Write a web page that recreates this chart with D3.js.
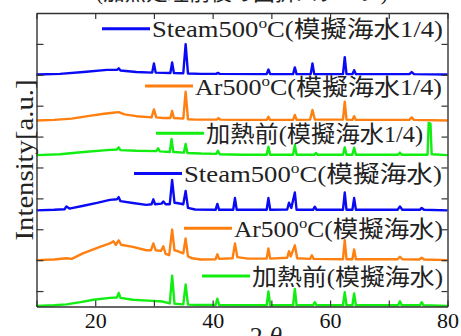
<!DOCTYPE html>
<html>
<head>
<meta charset="utf-8">
<script src="https://cdn.jsdelivr.net/npm/d3@7"></script>
<style>
  body { margin: 0; background: #fff; }
  svg { display: block; }
</style>
</head>
<body>
<div id="chart"></div>
<script>
// XRD patterns, [2theta, intensity above own baseline], bottom to top
const preheatSea = [[10,0],[13,0.02],[15.1,0.05],[17.5,0.12],[19.7,0.2],[22.5,0.26],[23.7,0.27],[24.0,0.42],[24.3,0.26],[26.4,0.2],[29,0.17],[31.5,0.14],[32.7,0.08],[33.1,0.98],[33.5,0.07],[35.0,0.05],[35.4,0.69],[35.8,0.04],[38,0.03],[40.5,0.03],[40.8,0.23],[41.1,0.03],[45,0.02],[49.2,0.02],[49.5,0.47],[49.8,0.02],[53.7,0.02],[54.0,0.55],[54.3,0.02],[57.1,0.02],[57.4,0.12],[57.7,0.02],[62.2,0.02],[62.5,0.44],[62.8,0.02],[63.8,0.02],[64.1,0.40],[64.4,0.02],[71.6,0.02],[71.9,0.15],[72.2,0.02],[75.3,0.02],[75.6,0.12],[75.9,0.02],[80,0]];
const ar500Sea = [[10,0],[13,0.02],[15.1,0.06],[16,0.04],[17.9,0.22],[20.8,0.43],[22.5,0.54],[23.1,0.61],[23.5,0.5],[24.0,0.64],[24.4,0.5],[26.4,0.43],[28.7,0.32],[29.5,0.32],[29.9,0.54],[30.3,0.32],[31.2,0.3],[31.6,0.45],[32.0,0.2],[32.6,0.16],[33.1,0.99],[33.5,0.32],[33.9,0.3],[35.0,0.22],[35.4,0.70],[35.8,0.12],[36.5,0.06],[38,0.02],[40.5,0.03],[40.8,0.19],[41.1,0.04],[43.4,0.06],[43.8,0.54],[44.2,0.1],[46,0.05],[49.2,0.05],[49.5,0.38],[49.8,0.05],[52.7,0.08],[53.0,0.29],[53.3,0.12],[54.0,0.48],[54.4,0.06],[56.6,0.04],[56.9,0.16],[57.2,0.04],[62.2,0.03],[62.5,0.65],[62.8,0.03],[63.8,0.03],[64.1,0.35],[64.4,0.03],[71.5,0.03],[71.9,0.11],[72.3,0.03],[75.2,0.02],[75.6,0.08],[76,0.02],[80,0]];
const steam500Sea = [[10,0],[13,0.02],[14.8,0.04],[15.1,0.13],[15.6,0.06],[18,0.15],[20.5,0.25],[22.5,0.34],[23.7,0.36],[24.0,0.43],[24.3,0.3],[26.4,0.24],[28.7,0.18],[29.6,0.2],[29.9,0.36],[30.2,0.2],[31.3,0.22],[31.6,0.29],[32.0,0.2],[32.7,0.2],[33.1,0.99],[33.5,0.25],[33.9,0.24],[35.0,0.2],[35.4,0.63],[35.8,0.08],[37,0.03],[40.5,0.02],[40.8,0.21],[41.1,0.02],[43.5,0.02],[43.8,0.4],[44.1,0.02],[49.2,0.02],[49.5,0.4],[49.8,0.02],[52.7,0.03],[53.0,0.25],[53.4,0.08],[54.0,0.58],[54.3,0.02],[57.1,0.02],[57.4,0.12],[57.7,0.02],[62.2,0.02],[62.5,0.58],[62.8,0.02],[63.8,0.02],[64.1,0.4],[64.4,0.02],[71.5,0.02],[71.9,0.13],[72.3,0.02],[75.3,0.02],[75.6,0.08],[76,0.02],[80,0]];
const preheatQuarter = [[10,0],[14,0.03],[18,0.1],[22,0.16],[23.7,0.18],[24.0,0.25],[24.3,0.16],[27,0.14],[30.4,0.13],[30.7,0.22],[31.0,0.12],[32.7,0.1],[33.0,0.52],[33.3,0.1],[35.1,0.08],[35.4,0.36],[35.7,0.07],[38,0.05],[40.6,0.04],[40.9,0.14],[41.2,0.03],[45,0.01],[49.2,0.01],[49.5,0.27],[49.8,0.01],[53.7,0.01],[54.0,0.32],[54.3,0.01],[57.3,0.01],[57.6,0.07],[57.9,0.01],[62.2,0.01],[62.5,0.25],[62.8,0.01],[63.8,0.01],[64.1,0.24],[64.4,0.01],[71.6,0.01],[71.9,0.08],[72.2,0.01],[76.6,0.01],[76.8,1.04],[77.1,1.02],[77.3,0.03],[80,0]];
const ar500Quarter = [[10,0],[13,0.02],[16,0.06],[19,0.15],[21.5,0.22],[23,0.25],[24.0,0.27],[25,0.2],[27,0.14],[29.6,0.1],[30.0,0.36],[30.4,0.1],[31.5,0.08],[32.8,0.08],[33.1,0.31],[33.4,0.08],[35.0,0.06],[35.4,0.93],[35.8,0.04],[37,0.03],[40.7,0.03],[41.0,0.08],[41.3,0.03],[45,0.02],[49.2,0.02],[49.5,0.12],[49.8,0.02],[53.7,0.02],[54.0,0.18],[54.3,0.02],[56.6,0.03],[57.0,0.34],[57.4,0.03],[62.2,0.03],[62.5,0.61],[62.8,0.03],[63.8,0.02],[64.1,0.14],[64.4,0.02],[73.5,0.02],[73.9,0.1],[74.3,0.02],[80,0]];
const steam500Quarter = [[10,0],[14,0.02],[18,0.08],[22,0.15],[23.7,0.15],[24.0,0.2],[24.3,0.13],[27,0.08],[29.7,0.06],[30.0,0.36],[30.3,0.06],[32.8,0.05],[33.1,0.39],[33.4,0.05],[35.0,0.04],[35.4,0.98],[35.8,0.03],[38,0.02],[40.6,0.02],[40.9,0.05],[41.2,0.02],[49.2,0.01],[49.5,0.16],[49.8,0.01],[53.7,0.01],[54.0,0.23],[54.3,0.01],[56.7,0.01],[57.0,0.36],[57.3,0.01],[62.2,0.01],[62.5,0.56],[62.8,0.01],[63.8,0.01],[64.1,0.14],[64.4,0.01],[73.5,0.01],[73.9,0.08],[74.3,0.01],[80,0]];

const patterns = [preheatSea, ar500Sea, steam500Sea, preheatQuarter, ar500Quarter, steam500Quarter];
const offsets = [-0.48, 1.0, 2.61, 4.40, 5.52, 7.01];
// legend text split as [before superscript, superscript, after]
const labels = [
  ['加熱前(模擬海水)', '', ''],
  ['Ar500', 'o', 'C(模擬海水)'],
  ['Steam500', 'o', 'C(模擬海水)'],
  ['加熱前(模擬海水1/4)', '', ''],
  ['Ar500', 'o', 'C(模擬海水1/4)'],
  ['Steam500', 'o', 'C(模擬海水1/4)']
];
const colors = ['#12ee12', '#ff8010', '#0a0af5', '#12ee12', '#ff8010', '#0a0af5'];
const xTicks = [10, 20, 30, 40, 50, 60, 70, 80];
const xTickLabels = [20, 40, 60, 80];
const yTicks = [0, 1, 2, 3, 4, 5, 6, 7, 8];
const titleText = '(加熱処理前後の回折パターン)';

// legend placement: text start, text end and baseline, px
const legendPos = [
  {x: 252, end: 443, y: 284.5}, {x: 234, end: 443, y: 236.7}, {x: 184, end: 442, y: 182},
  {x: 206, end: 423, y: 141.7}, {x: 195, end: 442, y: 94.5}, {x: 152, end: 443, y: 37.3}
];

const W = 461, H = 336;
const margin = { top: 13, right: 13.5, bottom: 29.5, left: 36.5 };
const width = W - margin.left - margin.right;
const height = H - margin.top - margin.bottom;
const latin = '"Liberation Serif", "Noto Sans CJK JP", serif';

const svg = d3.select('#chart').append('svg')
  .attr('width', W).attr('height', H);

const x = d3.scaleLinear().domain([10, 80]).range([margin.left, margin.left + width]);
const y = d3.scaleLinear().domain([-0.5, 9]).range([margin.top + height, margin.top]);

// title, mostly cut off at the top edge
svg.append('text')
  .attr('x', margin.left + width / 2).attr('y', -0.5)
  .attr('text-anchor', 'middle')
  .attr('textLength', 292).attr('lengthAdjust', 'spacingAndGlyphs')
  .style('font-family', latin).style('font-size', '21px').style('fill', '#222')
  .text(titleText);

// pattern lines
patterns.forEach((pts, i) => {
  const line = d3.line()
    .x(d => x(d[0]))
    .y(d => y(d[1] + offsets[i]));
  svg.append('path')
    .attr('d', line(pts))
    .style('fill', 'none')
    .style('stroke', colors[i])
    .style('stroke-width', 2.4)
    .style('stroke-linejoin', 'round');
});

// axes, ticks pointing inward
const tickFmt = d => xTickLabels.includes(d) ? d : '';
const xb = svg.append('g')
  .attr('transform', `translate(0,${margin.top + height})`)
  .call(d3.axisBottom(x).tickValues(xTicks).tickSizeInner(-6).tickSizeOuter(0).tickPadding(6).tickFormat(tickFmt));
svg.append('g')
  .attr('transform', `translate(0,${margin.top})`)
  .call(d3.axisTop(x).tickValues(xTicks).tickSizeInner(-6).tickSizeOuter(0).tickFormat(''));
svg.append('g')
  .attr('transform', `translate(${margin.left},0)`)
  .call(d3.axisLeft(y).tickValues(yTicks).tickSizeInner(-7).tickSizeOuter(0).tickFormat(''));
svg.append('g')
  .attr('transform', `translate(${margin.left + width},0)`)
  .call(d3.axisRight(y).tickValues(yTicks).tickSizeInner(-6).tickSizeOuter(0).tickFormat(''));

svg.selectAll('.domain').style('stroke', '#333').style('stroke-width', 1.4);
svg.selectAll('.tick line').style('stroke', '#333').style('stroke-width', 1.2);
xb.selectAll('text')
  .style('font-family', latin).style('font-size', '22px').style('fill', '#111');

// legend entries
labels.forEach((lab, i) => {
  const p = legendPos[i];
  svg.append('line')
    .attr('x1', p.x - 50).attr('x2', p.x - 2)
    .attr('y1', p.y - 8.5).attr('y2', p.y - 8.5)
    .style('stroke', colors[i]).style('stroke-width', 3);
  const t = svg.append('text')
    .attr('x', p.x).attr('y', p.y)
    .attr('textLength', p.end - p.x).attr('lengthAdjust', 'spacingAndGlyphs')
    .style('font-family', latin).style('font-size', '23px').style('fill', '#222');
  t.append('tspan').text(lab[0]);
  if (lab[1]) {
    t.append('tspan').attr('dy', -9).style('font-size', '15px').text(lab[1]);
    t.append('tspan').attr('dy', 9).text(lab[2]);
  }
});

// axis titles
svg.append('text')
  .attr('transform', `translate(32.5,${margin.top + 147}) rotate(-90)`)
  .attr('text-anchor', 'middle')
  .attr('textLength', 161).attr('lengthAdjust', 'spacingAndGlyphs')
  .style('font-family', latin).style('font-size', '25px').style('fill', '#222')
  .text('Intensity[a.u.]');

const xl = svg.append('text')
  .attr('x', 266).attr('y', 345)
  .attr('text-anchor', 'middle')
  .style('font-family', latin).style('font-size', '26px').style('fill', '#222');
xl.append('tspan').text('2 ');
xl.append('tspan').style('font-style', 'italic').text('θ');
</script>
</body>
</html>
